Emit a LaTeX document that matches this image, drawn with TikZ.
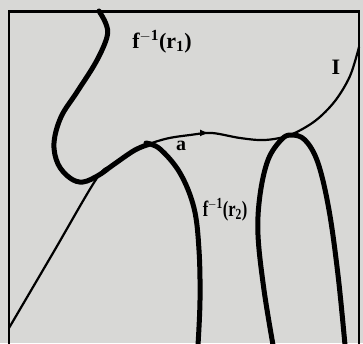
\documentclass[tikz,border=0pt]{standalone}
\usepackage{fontspec}
\setmainfont{Liberation Serif}
\usetikzlibrary{decorations.markings,arrows.meta}
\definecolor{paper}{RGB}{216,216,214}
\tikzset{
  thincurve/.style={line width=2.2pt,line cap=round,line join=round},
  thickcurve/.style={line width=5pt,line cap=round,line join=round},
  lbl/.style={font=\bfseries\fontsize{22}{22}\selectfont,inner sep=0pt}
}
\begin{document}
\begin{tikzpicture}[x=1pt,y=-1pt]
\useasboundingbox (0,0) rectangle (363,343);
\fill[paper] (0,0) rectangle (363,343);
% frame
\draw[line width=2.8pt] (9,345) -- (9,11.5) -- (359,11.5) -- (359,345);
% curve I
\draw[thincurve,postaction={decorate},decoration={markings,mark=at position 0.6 with {\arrow{Latex[length=9pt,width=7pt]}}}]
  plot[smooth,tension=0.55] coordinates {(9,328) (53,253) (97,178) (113,165) (140,148) (165,139) (190,135) (212,133) (240,138) (265,140) (290,135) (315,121) (335,101) (350,76) (359,47)};
% f^-1(r1)
\draw[thickcurve] plot[smooth,tension=0.6] coordinates {(99,11) (106,24) (107,37) (96,62) (77,92) (61,117) (54,143) (58,164) (70,178) (83,182) (99,175) (113,165) (135,150) (150,144)};
% f^-1(r2) left branch
\draw[thickcurve] plot[smooth,tension=0.6] coordinates {(146,143) (160,149) (180,173) (194,208) (199,250) (200,300) (198,345)};
% f^-1(r2) right U
\draw[thickcurve] plot[smooth,tension=0.6] coordinates {(273,345) (264,290) (258,235) (260,195) (268,160) (281,140) (291,135) (305,140) (318,163) (329,210) (338,275) (345,345)};
% labels
\node[lbl] (r1lbl) at (162,42) {f$^{\mathbf{-1}}$(r$_{\mathbf 1}$)};
\node[lbl,xscale=0.75] (r2lbl) at (225,210) {f$^{\mathbf{-1}}$(r$_{\mathbf 2}$)};
\node[lbl] (Ilbl) at (336,67) {I};
\node[lbl,font=\bfseries\fontsize{20}{20}\selectfont] (albl) at (181,146) {a};
\end{tikzpicture}
\end{document}
